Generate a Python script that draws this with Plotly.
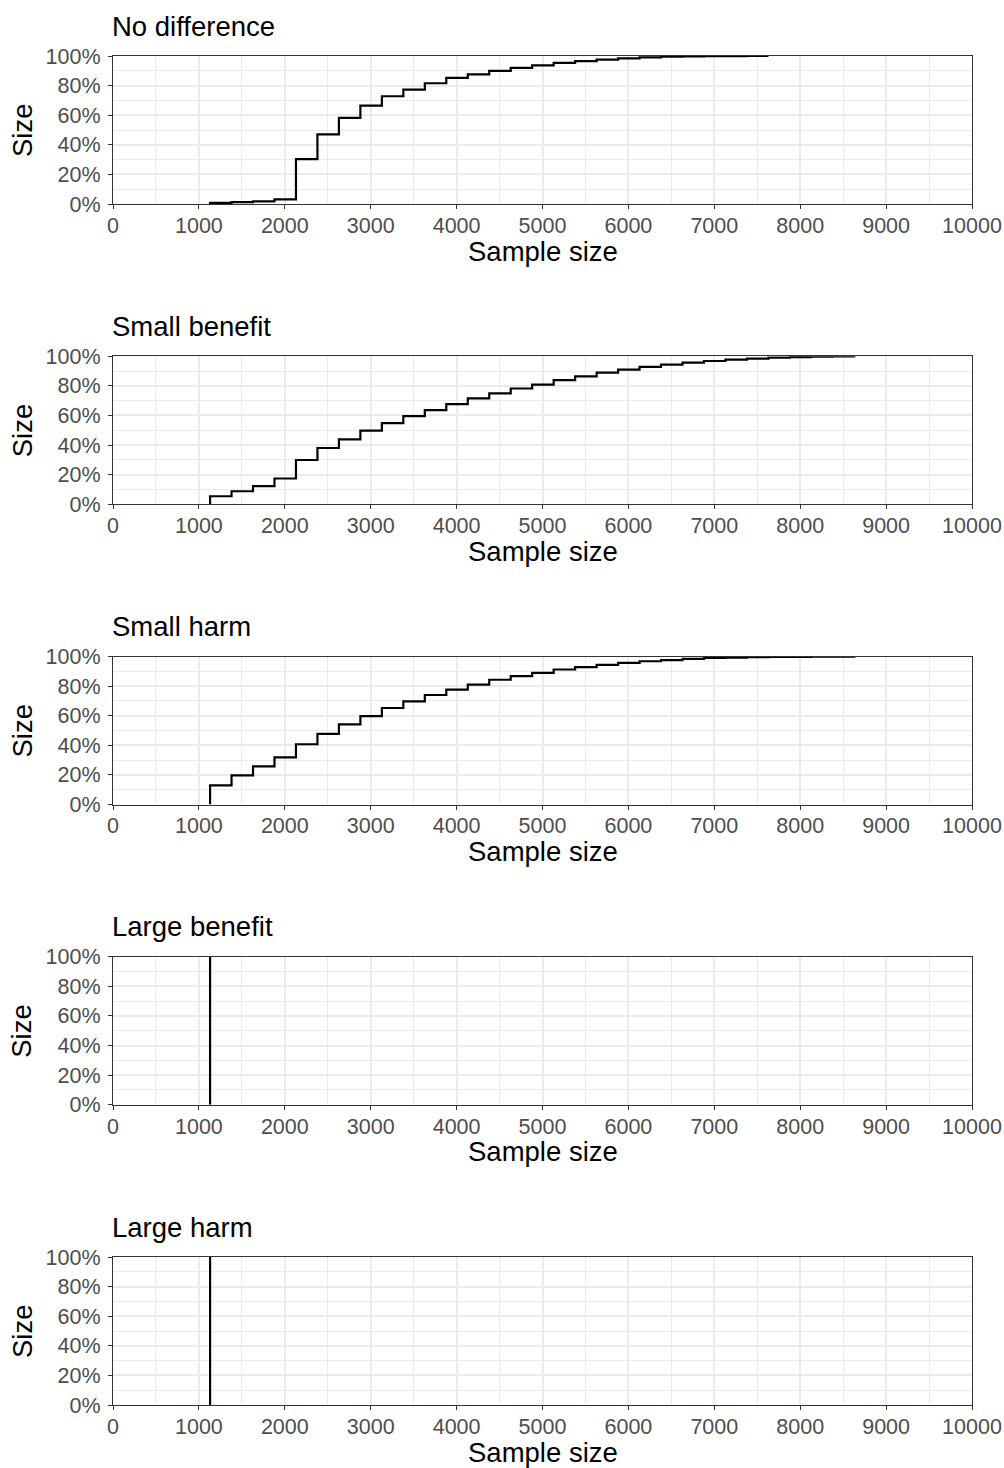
import plotly.graph_objects as go

# ---------------- data ----------------
panel_titles = ["No difference", "Small benefit", "Small harm", "Large benefit", "Large harm"]

sizes_no_diff = [1130, 1130, 1380, 1630, 1880, 2130, 2380, 2630, 2880, 3130, 3380, 3630, 3880,
                 4130, 4380, 4630, 4880, 5130, 5380, 5630, 5880, 6130, 6380, 6630, 6880, 7130, 7380, 7630]
pct_no_diff = [0, 0.7, 1.3, 1.8, 3.1, 30.3, 47.0, 58.2, 66.5, 72.8, 77.3, 81.6, 85.2,
               87.6, 90.0, 92.0, 93.6, 95.3, 96.6, 97.5, 98.4, 99.1, 99.5, 99.8, 99.9, 99.95, 100, 100]

sizes_small_benefit = [1130, 1130, 1380, 1630, 1880, 2130, 2380, 2630, 2880, 3130, 3380, 3630, 3880,
                       4130, 4380, 4630, 4880, 5130, 5380, 5630, 5880, 6130, 6380, 6630, 6880, 7130,
                       7380, 7630, 7880, 8130, 8380, 8630]
pct_small_benefit = [0, 5.4, 8.8, 12.2, 17.4, 29.9, 38.0, 43.9, 49.8, 54.8, 59.5, 63.6, 67.6,
                     71.5, 74.9, 78.2, 80.8, 83.9, 86.4, 88.9, 91.0, 92.8, 94.3, 95.7, 96.8, 97.7,
                     98.4, 99.1, 99.4, 99.7, 99.9, 100]

sizes_small_harm = [1130, 1130, 1380, 1630, 1880, 2130, 2380, 2630, 2880, 3130, 3380, 3630, 3880,
                    4130, 4380, 4630, 4880, 5130, 5380, 5630, 5880, 6130, 6380, 6630, 6880, 7130,
                    7380, 7630, 7880, 8130, 8380, 8630]
pct_small_harm = [0, 12.9, 19.7, 25.8, 31.9, 40.7, 47.7, 54.1, 59.7, 65.2, 69.7, 74.0, 77.6,
                  81.0, 84.3, 86.8, 88.9, 91.2, 92.8, 94.3, 95.7, 96.8, 97.5, 98.4, 99.0, 99.3,
                  99.5, 99.7, 99.8, 99.9, 99.95, 100]

sizes_large_benefit = [1130, 1130]
pct_large_benefit = [0, 100]

sizes_large_harm = [1130, 1130]
pct_large_harm = [0, 100]

x_tickvals = [0, 1000, 2000, 3000, 4000, 5000, 6000, 7000, 8000, 9000, 10000]
y_tickvals = [0, 20, 40, 60, 80, 100]
y_ticktext = ["0%", "20%", "40%", "60%", "80%", "100%"]

series = [
    (sizes_no_diff, pct_no_diff),
    (sizes_small_benefit, pct_small_benefit),
    (sizes_small_harm, pct_small_harm),
    (sizes_large_benefit, pct_large_benefit),
    (sizes_large_harm, pct_large_harm),
]

# ---------------- layout geometry (pixels) ----------------
W, H = 1004, 1468
L, R, T, B = 113, 32, 56, 63
plot_h = H - T - B
panel_h = 148
panel_gap = 300.25

FONT = "Liberation Sans, Arial, sans-serif"
TICK_COLOR = "#4D4D4D"
AXIS_COLOR = "#333333"
GRID = "#EBEBEB"
TICK_SIZE = 21.5
TITLE_SIZE = 27.5

fig = go.Figure()
annotations = []
layout_axes = {}

for i, ((xs, ys), title) in enumerate(zip(series, panel_titles)):
    top_px = T + panel_gap * i
    bot_px = top_px + panel_h
    d0 = (H - B - bot_px) / plot_h
    d1 = (H - B - top_px) / plot_h
    n = "" if i == 0 else str(i + 1)
    fig.add_trace(go.Scatter(
        x=xs, y=ys, mode="lines", line=dict(color="black", width=2.2, shape="hv"),
        xaxis="x" + n, yaxis="y" + n, showlegend=False, hoverinfo="skip"))

    layout_axes["xaxis" + n] = dict(
        domain=[0, 1], anchor="y" + n, range=[0, 10000], automargin=False,
        tickvals=x_tickvals, ticktext=[str(v) for v in x_tickvals],
        ticks="outside", ticklen=4, tickwidth=1.3, tickcolor=AXIS_COLOR,
        tickfont=dict(family=FONT, size=TICK_SIZE, color=TICK_COLOR),
        ticklabelstandoff=-2,
        showline=True, linecolor=AXIS_COLOR, linewidth=1.2, mirror=True,
        showgrid=True, gridcolor=GRID, gridwidth=1.5,
        minor=dict(dtick=500, tick0=0, showgrid=True, gridcolor=GRID, gridwidth=0.8, ticks=""),
        zeroline=False, fixedrange=True)
    layout_axes["yaxis" + n] = dict(
        domain=[d0, d1], anchor="x" + n, range=[0, 100], automargin=False,
        tickvals=y_tickvals, ticktext=y_ticktext,
        ticks="outside", ticklen=4, tickwidth=1.3, tickcolor=AXIS_COLOR,
        tickfont=dict(family=FONT, size=TICK_SIZE, color=TICK_COLOR),
        ticklabelstandoff=3,
        showline=True, linecolor=AXIS_COLOR, linewidth=1.2, mirror=True,
        showgrid=True, gridcolor=GRID, gridwidth=1.5,
        minor=dict(dtick=10, tick0=0, showgrid=True, gridcolor=GRID, gridwidth=0.8, ticks=""),
        zeroline=False, fixedrange=True)

    # panel title
    annotations.append(dict(
        text=title, xref="paper", yref="paper", x=0, xanchor="left", xshift=-3,
        y=(H - B - (top_px - 30)) / plot_h, yanchor="middle", showarrow=False,
        font=dict(family=FONT, size=TITLE_SIZE, color="black")))
    # y axis title
    annotations.append(dict(
        text="Size", xref="paper", yref="paper", x=(22 - L) / (W - L - R), xanchor="center",
        y=(d0 + d1) / 2, yanchor="middle", textangle=-90, showarrow=False,
        font=dict(family=FONT, size=TITLE_SIZE, color="black")))
    # x axis title
    annotations.append(dict(
        text="Sample size", xref="paper", yref="paper", x=(543 - L) / (W - L - R), xanchor="center",
        y=(H - B - (bot_px + 47)) / plot_h, yanchor="middle", showarrow=False,
        font=dict(family=FONT, size=TITLE_SIZE, color="black")))

fig.update_layout(
    width=W, height=H,
    margin=dict(l=L, r=R, t=T, b=B, pad=0, autoexpand=False),
    paper_bgcolor="white", plot_bgcolor="white",
    annotations=annotations,
    font=dict(family=FONT),
    **layout_axes)

fig.write_html("out.html", config={"displayModeBar": False})
